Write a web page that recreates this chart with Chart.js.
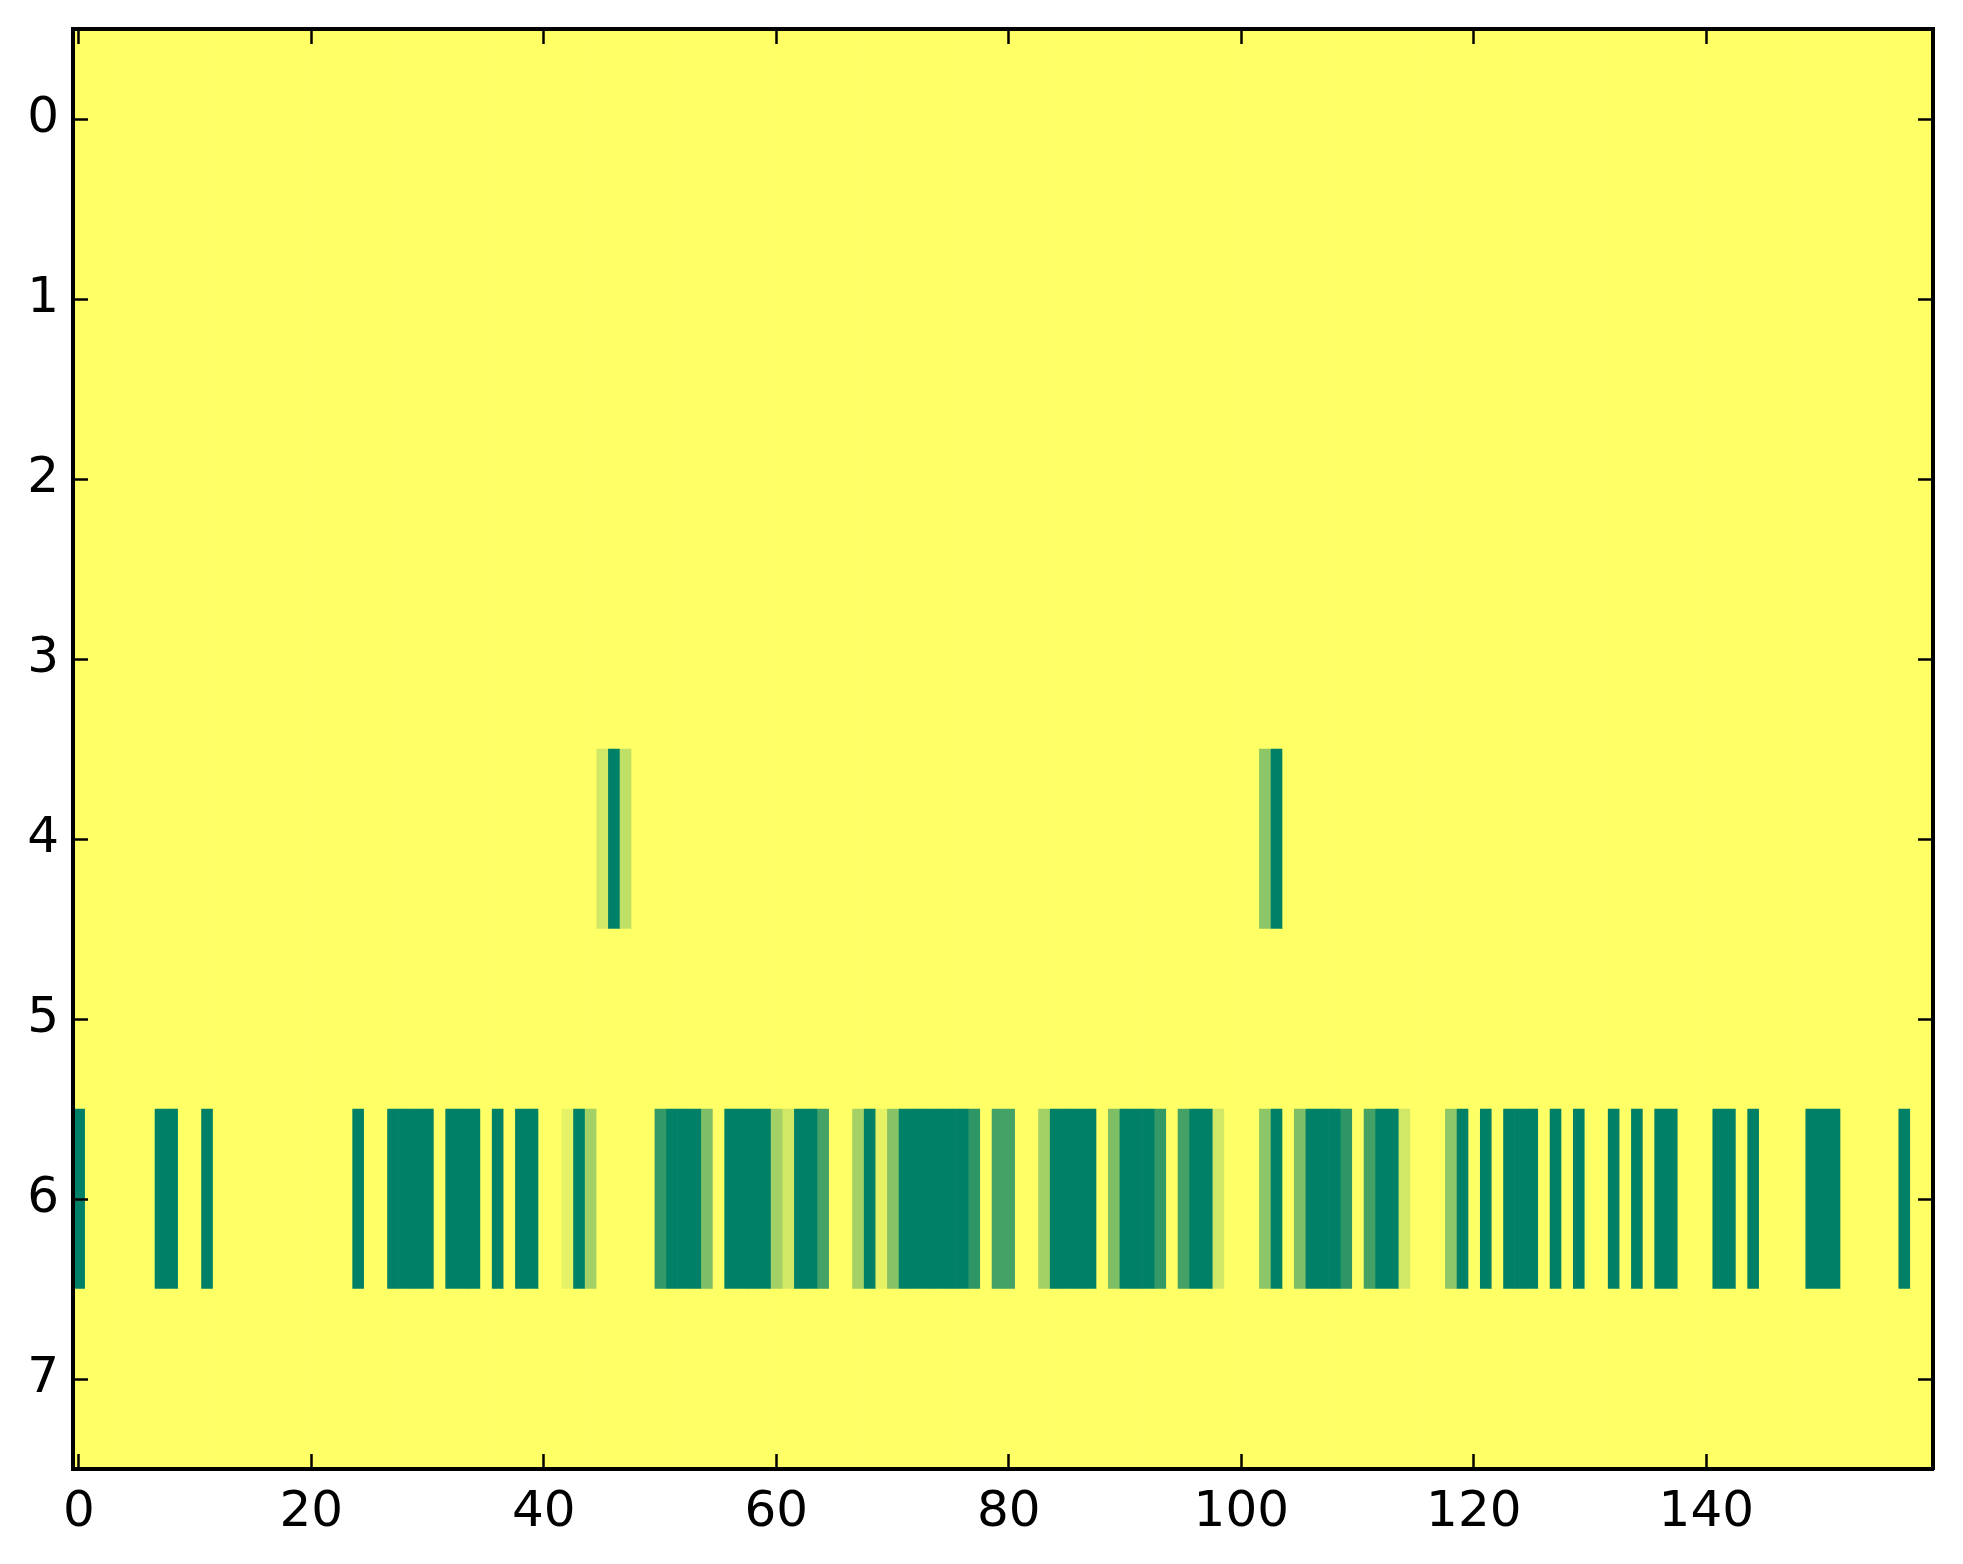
<!DOCTYPE html>
<html>
<head>
<meta charset="utf-8">
<script src="https://cdn.jsdelivr.net/npm/chart.js@4.4.1/dist/chart.umd.min.js"></script>
<style>
  html, body { margin: 0; padding: 0; background: #fff; }
  #wrap { width: 1963px; height: 1564px; }
</style>
</head>
<body>
<div id="wrap"><canvas id="heat"></canvas></div>
<script>
// image rows (top to bottom) and x ticks
const rowLabels = ['0', '1', '2', '3', '4', '5', '6', '7'];
const xTicks = [0, 20, 40, 60, 80, 100, 120, 140];
const nCols = 160;

// cell values, 0 = dark green, 1 = yellow (summer colormap)
const plainRow = Array(nCols).fill(1);
const row4 = [
  1,1,1,1,1,1,1,1,1,1, 1,1,1,1,1,1,1,1,1,1,
  1,1,1,1,1,1,1,1,1,1, 1,1,1,1,1,1,1,1,1,1,
  1,1,1,1,1,0.82,0,0.75,1,1, 1,1,1,1,1,1,1,1,1,1,
  1,1,1,1,1,1,1,1,1,1, 1,1,1,1,1,1,1,1,1,1,
  1,1,1,1,1,1,1,1,1,1, 1,1,1,1,1,1,1,1,1,1,
  1,1,0.55,0,1,1,1,1,1,1, 1,1,1,1,1,1,1,1,1,1,
  1,1,1,1,1,1,1,1,1,1, 1,1,1,1,1,1,1,1,1,1,
  1,1,1,1,1,1,1,1,1,1, 1,1,1,1,1,1,1,1,1,1
];
const row6 = [
  0,1,1,1,1,1,1,0,0,1, 1,0,1,1,1,1,1,1,1,1,
  1,1,1,1,0,1,1,0,0,0, 0,1,0,0,0,1,0,1,0,0,
  1,1,0.9,0,0.64,1,1,1,1,1, 0.2,0,0,0,0.49,1,0,0,0,0,
  0.64,0.82,0,0,0.27,1,1,0.64,0,0.9, 0.53,0,0,0,0,0,0,0.18,1,0.27,
  0.27,1,1,0.64,0,0,0,0,1,0.49, 0,0,0,0.2,1,0.27,0,0,0.82,1,
  1,1,0.55,0,1,0.49,0,0,0,0.18, 1,0.27,0,0,0.82,1,1,1,0.55,0,
  1,0,1,0,0,0,1,0,1,0, 1,1,0,1,0,1,0,0,1,1,
  1,0,0,1,0,1,1,1,1,0, 0,0,1,1,1,1,1,0,1,1
];
const cells = [plainRow, plainRow, plainRow, plainRow, row4, plainRow, row6, plainRow];

function summer(v) {
  return 'rgb(' + Math.round(255 * v) + ',' + Math.round(255 * (0.5 + 0.5 * v)) + ',102)';
}

// one floating-bar dataset per image column
const datasets = [];
for (let c = 0; c < nCols; c++) {
  datasets.push({
    data: rowLabels.map(() => [c - 0.5, c + 0.5]),
    backgroundColor: rowLabels.map((_, r) => summer(cells[r][c])),
    borderWidth: 0,
    barPercentage: 1,
    categoryPercentage: 1,
    grouped: false
  });
}

const font = { family: 'DejaVu Sans', size: 50 };
const tickGrid = { drawOnChartArea: false, drawTicks: true, tickLength: -15, tickWidth: 2.5, tickColor: '#000', z: 1 };
const frame = { display: true, color: '#000', width: 4, z: 2 };
const setTicks = s => { s.ticks = xTicks.map(v => ({ value: v })); };
// fixed axis sizes so the plot box sits where it does in the picture
const fitTo = (w, h) => s => {
  if (w !== null) s.width = w;
  if (h !== null) s.height = h;
  s.paddingTop = 0; s.paddingBottom = 0; s.paddingLeft = 0; s.paddingRight = 0;
};

new Chart(document.getElementById('heat'), {
  type: 'bar',
  data: { labels: rowLabels, datasets: datasets },
  options: {
    indexAxis: 'y',
    responsive: true,
    maintainAspectRatio: false,
    devicePixelRatio: 1,
    animation: false,
    layout: { padding: 0 },
    plugins: { legend: { display: false }, tooltip: { enabled: false } },
    scales: {
      x: {
        type: 'linear', position: 'bottom', min: -0.5, max: 159.5,
        afterBuildTicks: setTicks,
        afterFit: fitTo(null, 95),
        ticks: { font: font, color: '#000', padding: 29, maxRotation: 0 },
        grid: tickGrid, border: frame
      },
      x2: {
        type: 'linear', position: 'top', min: -0.5, max: 159.5,
        afterBuildTicks: setTicks,
        afterFit: fitTo(null, 29),
        ticks: { display: false },
        grid: tickGrid, border: frame
      },
      y: {
        type: 'category', position: 'left', offset: true,
        afterFit: fitTo(73, null),
        ticks: { font: font, color: '#000', padding: 29 },
        grid: Object.assign({}, tickGrid, { offset: false }), border: frame
      },
      y2: {
        type: 'category', position: 'right', offset: true, labels: rowLabels,
        afterFit: fitTo(30, null),
        ticks: { display: false },
        grid: Object.assign({}, tickGrid, { offset: false }), border: frame
      }
    }
  }
});
</script>
</body>
</html>
